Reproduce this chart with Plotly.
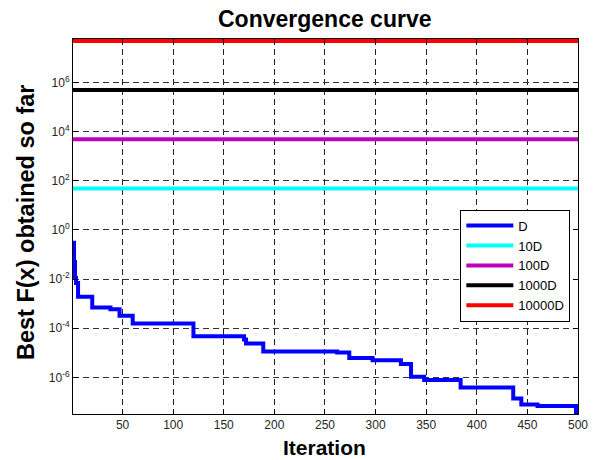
import plotly.graph_objects as go

# Data
iter_D = [1, 2, 3, 4, 6, 20, 38, 47, 60, 120, 170, 172, 189, 262, 274, 297, 325, 335, 348, 384, 436, 444, 460, 498, 500]
val_D = [0.30, 0.05, 0.011, 0.007, 0.0019, 6.9e-4, 5.9e-4, 3.2e-4, 1.55e-4, 4.7e-5, 3.5e-5, 2.4e-5,
         1.12e-5, 1.02e-5, 6.2e-6, 5.0e-6, 3.5e-6, 1.05e-6, 7.9e-7, 3.9e-7, 1.38e-7, 7.9e-8, 6.9e-8,
         3.2e-8, 3.2e-8]
iter_flat = [1, 500]
val_10D = [49, 49]
val_100D = [4.9e3, 4.9e3]
val_1000D = [4.9e5, 4.9e5]
val_10000D = [4.9e7, 4.9e7]

series = [
    ("D", iter_D, val_D, "#0000FF"),
    ("10D", iter_flat, val_10D, "#00FFFF"),
    ("100D", iter_flat, val_100D, "#BF00BF"),
    ("1000D", iter_flat, val_1000D, "#000000"),
    ("10000D", iter_flat, val_10000D, "#FF0000"),
]

x_ticks = [50, 100, 150, 200, 250, 300, 350, 400, 450, 500]
y_exps = [-6, -4, -2, 0, 2, 4, 6]

fig = go.Figure()
for name, xs, ys, col in series:
    fig.add_trace(go.Scatter(x=xs, y=ys, mode="lines", name=name,
                             line=dict(color=col, width=4, shape="hv")))

font_family = "Liberation Sans, Arial, sans-serif"
fig.update_layout(
    width=597, height=460,
    margin=dict(l=73, r=19, t=39, b=46, autoexpand=False),
    paper_bgcolor="white", plot_bgcolor="white",
    font=dict(family=font_family, size=12, color="#262626"),
    legend=dict(x=0.767, xanchor="left", y=0.545, yanchor="top",
                bgcolor="white", bordercolor="black", borderwidth=1,
                font=dict(size=13, color="black", family=font_family),
                tracegroupgap=0, itemwidth=47),
    showlegend=True,
    annotations=[
        dict(text="<b>Convergence curve</b>", xref="paper", yref="paper", x=0.498, y=1.053,
             xanchor="center", yanchor="middle", showarrow=False,
             font=dict(size=23, color="black", family=font_family)),
        dict(text="<b>Iteration</b>", xref="paper", yref="paper", x=0.498, y=-0.09,
             xanchor="center", yanchor="middle", showarrow=False,
             font=dict(size=21, color="black", family=font_family)),
        dict(text="<b>Best F(x) obtained so far</b>", xref="paper", yref="paper", x=-0.093, y=0.512,
             xanchor="center", yanchor="middle", showarrow=False, textangle=-90,
             font=dict(size=23.5, color="black", family=font_family)),
    ],
)
fig.update_xaxes(
    range=[1, 500], tickvals=x_ticks, ticktext=[str(t) for t in x_ticks],
    showline=True, linecolor="black", linewidth=1, mirror="all",
    ticks="inside", ticklen=5, tickcolor="black", automargin=False,
    showgrid=True, gridcolor="#222222", gridwidth=1, griddash="6px,4px",
    zeroline=False,
)
fig.update_yaxes(
    type="log", range=[-7.49, 7.77],
    tickvals=[10.0 ** e for e in y_exps],
    ticktext=["10<sup>%d</sup>" % e for e in y_exps],
    showline=True, linecolor="black", linewidth=1, mirror="all",
    ticks="inside", ticklen=5, tickcolor="black", automargin=False,
    showgrid=True, gridcolor="#333333", gridwidth=1, griddash="6px,4px",
    zeroline=False,
)

fig.write_html("out.html", config={"displayModeBar": False},
               post_script="document.body.style.margin='0';document.body.style.overflow='hidden';")
